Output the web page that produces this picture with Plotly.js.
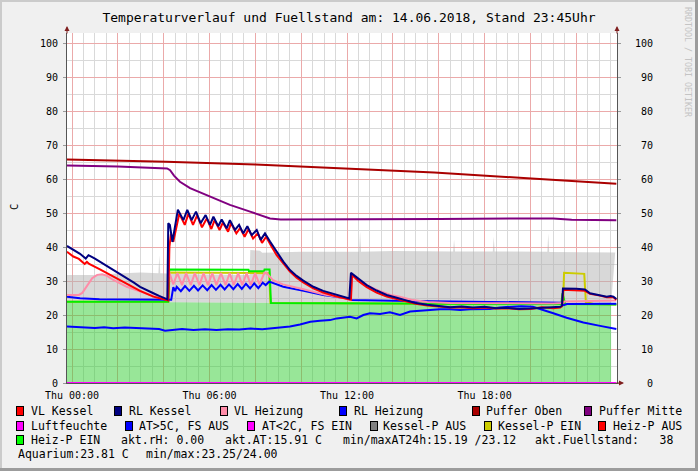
<!DOCTYPE html>
<html><head><meta charset="utf-8">
<script src="https://cdn.plot.ly/plotly-3.0.1.min.js"></script>
<style>html,body{margin:0;padding:0;background:#F0F0F0;}#chart{width:698px;height:471px;}</style>
</head><body><div id="chart"></div>
<script>
// ---------- data: x = hours since Thu 14.06.2018 00:00, y = °C / % ----------
const xTickVals = [0,2,4,6,8,10,12,14,16,18,20,22];
const xTickText = ['Thu 00:00','','','Thu 06:00','','','Thu 12:00','','','Thu 18:00','',''];
const yTickVals = [0,10,20,30,40,50,60,70,80,90,100];
const yTickText = ['0','10','20','30','40','50','60','70','80','90','100'];

const pufferObenT = [-0.22,4.1,8.0,12,15.8,19.7,23.75];
const pufferObenV = [65.7,65.1,64.3,63.1,61.9,60.3,58.6];

const pufferMitteT = [-0.22,2,4.15,4.28,4.45,4.71,5.15,6.02,6.89,7.77,8.64,9.1,12,16,19.7,21,21.8,23.75];
const pufferMitteV = [64.0,63.7,63.1,62.6,61.0,59.2,57.3,54.8,52.4,50.4,48.4,48.1,48.1,48.2,48.4,48.4,48.0,47.9];

const rlKesselT = [-0.22,0.06,0.35,0.6,0.72,1.0,1.22,1.5,1.8,2.1,2.39,2.7,2.97,3.25,3.55,3.8,4.06,4.16,
  4.2,4.27,4.38,4.5,4.62,4.86,5.03,5.22,5.41,5.61,5.83,6.02,6.17,6.38,6.53,6.75,6.89,7.11,7.29,7.47,7.65,7.84,8.06,8.23,8.42,
  8.64,8.9,9.22,9.51,9.8,10.09,10.53,10.96,11.55,11.98,12.1,12.17,12.25,12.49,12.86,13.29,13.73,14.17,14.57,
  15.0,15.5,16.0,16.5,17.0,17.5,18.0,18.5,19.0,19.5,20.0,20.5,21.0,21.3,21.38,21.42,22.0,22.38,22.6,23.04,23.33,23.5,23.62,23.75];
const rlKesselV = [40.3,39.1,38.0,36.6,37.6,36.6,35.7,34.5,33.4,32.1,30.8,29.5,28.3,27.3,26.4,25.6,24.9,24.6,
  47.0,46.5,41.5,47.0,51.0,47.9,50.9,47.9,50.4,47.0,49.4,46.5,48.9,46.1,48.1,45.5,47.9,45.0,46.5,44.0,46.1,43.5,45.0,42.1,44.0,
  41.6,38.8,35.7,33.2,31.5,30.1,28.3,27.1,25.9,25.1,24.9,32.4,32.0,30.8,28.8,27.2,25.9,25.1,24.4,
  23.5,23.0,22.7,22.3,22.5,22.2,22.4,22.0,22.1,21.8,21.9,22.1,22.2,22.4,22.8,27.8,27.7,27.5,26.4,25.9,25.4,25.6,25.4,24.7];

const vlKesselT = [-0.22,0.06,0.3,0.49,0.55,0.65,0.75,1.22,1.8,2.39,2.97,3.55,4.06,4.2,
  4.25,4.32,4.42,4.55,4.68,4.92,5.08,5.28,5.46,5.67,5.88,6.08,6.22,6.44,6.58,6.81,6.94,7.17,7.34,7.53,7.7,7.9,8.11,8.29,8.47,
  8.7,8.93,9.22,9.51,9.8,10.09,10.53,10.96,11.55,12.0,12.17,12.22,12.49,12.86,13.29,13.73,14.17,14.57,
  15.0,15.5,16.0,16.5,17.0,17.5,18.0,18.5,19.0,19.5,20.0,20.5,21.0,21.3,21.38,21.43,22.38,22.6,23.04,23.33,23.62,23.75];
const vlKesselV = [38.6,37.2,36.5,35.5,35.0,35.6,35.0,33.4,31.3,29.0,27.1,25.4,24.4,24.3,
  40.0,44.0,41.5,46.0,49.8,46.5,49.8,46.5,49.3,45.8,48.4,45.3,47.9,45.0,47.2,44.5,47.0,44.0,45.6,43.0,45.2,42.5,44.0,41.2,43.0,
  40.2,37.6,35.2,32.8,31.0,29.6,27.8,26.6,25.4,24.7,24.5,31.8,30.0,28.2,26.6,25.4,24.6,24.0,
  23.3,22.8,22.5,22.2,22.3,22.0,22.2,21.9,22.0,21.7,21.8,22.3,22.0,22.2,22.6,27.4,27.1,26.2,25.7,25.2,25.2,24.5];

const vlHeizungT = [-0.22,0.3,0.45,0.66,0.88,1.1,1.32,1.53,1.8,2.39,2.97,3.55,4.06,4.16,
  4.22,4.42,4.6,4.8,4.98,5.18,5.36,5.56,5.74,5.93,6.12,6.3,6.5,6.7,6.88,7.06,7.25,7.43,7.62,7.8,7.99,8.18,8.4,8.5,
  8.75,9.2,10.1,11.0,11.85,12.15,12.22,12.7,13.3,13.9,14.3,14.8,15.5,16.5,21.0,21.4,21.5,23.75];
const vlHeizungV = [25.9,25.9,26.5,28.8,30.8,31.8,32.0,31.5,30.3,28.3,26.9,25.6,24.7,24.5,
  33.0,29.0,32.3,28.8,32.3,28.8,32.3,28.8,32.3,28.8,32.3,28.8,32.3,28.8,32.3,28.8,32.3,28.8,32.3,28.8,32.3,29.0,32.5,32.3,
  30.3,29.0,27.6,26.0,25.0,24.4,31.8,29.3,27.4,25.9,25.4,24.5,23.8,23.5,23.4,23.5,24.0,24.3];

const rlHeizungT = [-0.22,0.35,1.2,4.06,4.33,4.42,4.5,4.57,4.75,4.93,5.12,5.32,5.5,5.7,5.9,6.09,6.28,6.48,6.66,6.85,
  7.04,7.23,7.41,7.59,7.77,7.95,8.13,8.32,8.45,8.6,9.22,10.1,10.96,11.98,12.2,14,16,18,20,21.3,21.45,21.6,23.75];
const rlHeizungV = [25.4,24.9,24.6,24.4,24.5,28.2,27.0,28.3,27.0,28.5,27.1,28.6,27.2,28.7,27.3,28.8,27.4,28.9,27.5,29.0,
  27.6,29.1,27.7,29.2,27.8,29.3,27.9,29.5,28.8,29.8,28.3,27.1,25.9,24.9,24.4,24.2,24.0,23.9,23.8,23.6,22.9,23.2,23.3];

const heizPT = [-0.22,4.2,4.24,7.7,7.72,8.38,8.4,8.62,8.68,12,16,21.35,21.4,21.47,21.52,23.75];
const heizPV = [23.9,23.9,33.4,33.3,32.9,32.9,33.4,33.4,23.5,23.4,23.3,23.2,26.4,24.0,23.2,23.1];

const kesselPT = [-0.22,4.2,4.26,8.6,8.66,12,21.42,21.47,22.35,22.42,22.8,23.75];
const kesselPV = [23.9,23.9,32.5,32.3,23.5,23.4,23.2,32.4,32.1,23.8,23.2,23.1];

const atT = [-0.22,0.3,0.6,1.0,1.4,1.8,2.3,2.8,3.3,3.8,4.06,4.3,4.8,5.3,5.8,6.3,6.8,7.3,7.8,8.3,8.93,9.51,9.95,10.4,10.82,11.26,
  11.55,11.98,12.13,12.42,12.71,13.0,13.44,13.87,14.17,14.31,14.75,15.18,15.62,16.06,16.49,16.93,17.37,17.8,18.24,18.67,19.11,
  19.6,20.11,20.56,21.0,21.58,22.31,23.04,23.4,23.75];
const atV = [16.6,16.4,16.5,16.2,16.4,16.1,16.3,16.1,16.0,15.9,15.4,15.6,15.9,15.6,15.8,15.6,15.8,15.7,16.0,15.8,16.2,16.6,17.2,18.0,18.3,18.5,
  19.0,19.3,19.5,19.0,20.0,20.5,20.3,20.8,20.3,20.0,21.0,21.3,21.5,21.7,21.7,21.5,21.7,21.7,21.8,22.2,22.3,
  22.6,22.4,21.5,20.5,19.2,17.8,16.8,16.3,15.9];

const aquariumT = [-0.22,2,4.2,6,8.6,10,14,18,21,23.52];
const aquariumV = [24.0,23.95,23.9,23.8,23.6,23.5,23.4,23.3,23.25,23.1];

const fuellT = [-0.22,1.0,2.0,3.0,3.77,3.81,3.85,5.0,7.75,7.78,8.2,8.3,10,12.53,12.57,12.61,14,16.63,16.67,16.71,
  18.36,18.4,18.44,20.74,20.78,20.82,23.7];
const fuellV = [31.8,31.8,32.2,32.5,32.3,37.6,32.3,32.0,31.8,39.1,38.9,38.3,38.6,38.6,44.5,38.6,38.8,38.7,42.1,38.7,
  38.7,43.0,38.7,38.6,44.0,38.5,38.4];

const luftT = [-0.22,23.75];
const luftV = [0,0];

const legendRows = [
  ['VL Kessel','RL Kessel','VL Heizung','RL Heizung','Puffer Oben','Puffer Mitte'],
  ['Luftfeuchte','AT>5C, FS AUS','AT<2C, FS EIN','Kessel-P AUS','Kessel-P EIN','Heiz-P AUS'],
  ['Heiz-P EIN']
];
const legendColors = [
  ['#FF0000','#000080','#FF8CA8','#0000FF','#AA0000','#800080'],
  ['#FF00FF','#0000FF','#FF00FF','#808080','#CCCC00','#FF0000'],
  ['#00FF00']
];
const infoRow3 = ['akt.rH: 0.00','akt.AT:15.91 C','min/maxAT24h:15.19 /23.12','akt.Fuellstand:   38'];
const infoRow4 = ['Aquarium:23.81 C','min/max:23.25/24.00'];
const titleText = 'Temperaturverlauf und Fuellstand am: 14.06.2018, Stand 23:45Uhr';

// ---------- layout helpers (pixel -> paper) ----------
const PL = 67, PR = 617, PT = 33, PB = 383;
const px = x => (x - PL) / (PR - PL);
const py = y => (PB - y) / (PB - PT);
const MONO = 'DejaVu Sans Mono, monospace';
const nb = s => s.replace(/ /g, '\u00A0').replace(/</g,'&lt;').replace(/>/g,'&gt;');

function line(t, v, color, name, yaxis) {
  return {x: t, y: v, type: 'scatter', mode: 'lines', name: name, yaxis: yaxis || 'y',
          line: {color: color, width: 2}, hoverinfo: 'skip', showlegend: false};
}

const traces = [
  {x: aquariumT, y: aquariumV, type: 'scatter', mode: 'lines', fill: 'tozeroy',
   fillcolor: 'rgba(50,205,50,0.5)', line: {width: 0, color: 'rgba(0,0,0,0)'}, showlegend: false, hoverinfo: 'skip', name: 'Aquarium'},
  {x: fuellT, y: fuellV, type: 'scatter', mode: 'lines', fill: 'tonexty',
   fillcolor: 'rgba(177,177,177,0.5)', line: {width: 0, color: 'rgba(0,0,0,0)'}, showlegend: false, hoverinfo: 'skip', name: 'Fuellstand'},
  line(luftT, luftV, '#FF00FF', 'Luftfeuchte', 'y2'),
  line(pufferObenT, pufferObenV, '#AA0000', 'Puffer Oben'),
  line(pufferMitteT, pufferMitteV, '#800080', 'Puffer Mitte'),
  line(kesselPT, kesselPV, '#CCCC00', 'Kessel-P EIN'),
  line(heizPT, heizPV, '#00EE00', 'Heiz-P EIN'),
  line(atT, atV, '#0000FF', 'AT'),
  line(rlHeizungT, rlHeizungV, '#0000FF', 'RL Heizung'),
  line(vlHeizungT, vlHeizungV, '#FF8CA8', 'VL Heizung'),
  line(vlKesselT, vlKesselV, '#FF0000', 'VL Kessel'),
  line(rlKesselT, rlKesselV, '#000080', 'RL Kessel')
];

const annotations = [];
const ARROW = '#7F1F1F';
annotations.push({xref:'paper', yref:'paper', x:0, y:py(26), ax:0, ay:9, text:'', showarrow:true, arrowhead:2, arrowsize:1, arrowwidth:1, arrowcolor:ARROW});
annotations.push({xref:'paper', yref:'paper', x:1, y:py(26), ax:0, ay:9, text:'', showarrow:true, arrowhead:2, arrowsize:1, arrowwidth:1, arrowcolor:ARROW});
annotations.push({xref:'paper', yref:'paper', x:px(624), y:0, ax:-9, ay:0, text:'', showarrow:true, arrowhead:2, arrowsize:1, arrowwidth:1, arrowcolor:ARROW});
annotations.push({xref:'paper', yref:'paper', x:px(14), y:py(207), text:'C', textangle:-90, showarrow:false,
  font:{family:MONO, size:10.5, color:'#000'}, xanchor:'center', yanchor:'middle'});
annotations.push({xref:'paper', yref:'paper', x:px(688), y:py(62), text:'RRDTOOL / TOBI OETIKER', textangle:90, showarrow:false,
  font:{family:MONO, size:8.3, color:'#C4C4C4'}, xanchor:'center', yanchor:'middle'});

const rowY = [411, 425.5, 439.5, 453.5];
const sqX = [[20,118,224,343,476,588],[20,129,250.5,374,488,602],[20]];
const txX = [[30.3,128.2,233.3,352.6,485.3,597.5],[30.3,138,260.5,382,497.3,612.2],[30.3]];
const LFONT = {family: MONO, size: 11.5, color: '#000'};
legendRows.forEach((row, r) => {
  row.forEach((name, i) => {
    annotations.push({xref:'paper', yref:'paper', x:px(sqX[r][i]), y:py(rowY[r]), xanchor:'center', yanchor:'middle',
      text:'\u00A0', showarrow:false, width:6, height:8, bgcolor:legendColors[r][i], bordercolor:'#000', borderwidth:1, borderpad:0,
      font:{size:6}});
    annotations.push({xref:'paper', yref:'paper', x:px(txX[r][i]-1), y:py(rowY[r]), xanchor:'left', yanchor:'middle',
      text:nb(name), showarrow:false, font:LFONT});
  });
});
const info3X = [120.2,224,342,534.3];
infoRow3.forEach((s, i) => annotations.push({xref:'paper', yref:'paper', x:px(info3X[i]-1), y:py(rowY[2]), xanchor:'left', yanchor:'middle',
  text:nb(s), showarrow:false, font:LFONT}));
const info4X = [16.5,144.7];
infoRow4.forEach((s, i) => annotations.push({xref:'paper', yref:'paper', x:px(info4X[i]-1), y:py(rowY[3]), xanchor:'left', yanchor:'middle',
  text:nb(s), showarrow:false, font:LFONT}));

const shapes = [
  {type:'rect', xref:'paper', yref:'paper', x0:px(0), x1:px(698), y0:py(0), y1:py(2), fillcolor:'#CBCBCB', line:{width:0}, layer:'above'},
  {type:'rect', xref:'paper', yref:'paper', x0:px(0), x1:px(2), y0:py(0), y1:py(471), fillcolor:'#CBCBCB', line:{width:0}, layer:'above'},
  {type:'rect', xref:'paper', yref:'paper', x0:px(695), x1:px(698), y0:py(0), y1:py(471), fillcolor:'#9C9C9C', line:{width:0}, layer:'above'},
  {type:'rect', xref:'paper', yref:'paper', x0:px(0), x1:px(698), y0:py(468), y1:py(471), fillcolor:'#9C9C9C', line:{width:0}, layer:'above'}
];

const MGRID = '#EBAAAA', GRID = '#D9D9D9', AXIS = '#555555';
const padR = yTickText.map(s => '\u00A0'.repeat(3 - s.length) + s);
const xAlias = {};
xTickVals.forEach((v, i) => { xAlias[String(v)] = xTickText[i] === '' ? '\u00A0' : xTickText[i]; });

const layout = {
  width: 698, height: 471, autosize: false,
  paper_bgcolor: '#F0F0F0', plot_bgcolor: '#FFFFFF',
  margin: {l: PL, r: 698 - PR, t: PT, b: 471 - PB, pad: 0},
  showlegend: false,
  title: {text: titleText, font: {family: MONO, size: 13, color: '#000'}, x: 0.5, xref: 'container', xanchor: 'center',
          y: 1 - 17/471, yref: 'container', yanchor: 'middle'},
  xaxis: {range: [(PL - 72) / 22.92, (PR - 72) / 22.92], tickmode: 'linear', tick0: 0, dtick: 2, labelalias: xAlias,
          showgrid: true, gridcolor: MGRID, gridwidth: 1, zeroline: false, showline: true, linecolor: AXIS, linewidth: 1,
          ticks: '', ticklabelstandoff: 3, tickfont: {family: MONO, size: 10, color: '#000'},
          minor: {tickmode: 'linear', tick0: 0, dtick: 0.5, showgrid: true, gridcolor: GRID, gridwidth: 1, ticks: ''},
          fixedrange: true},
  yaxis: {range: [0, (PB - PT) / 3.4], tickmode: 'linear', tick0: 0, dtick: 10,
          showgrid: true, gridcolor: MGRID, gridwidth: 1, zeroline: false, showline: true, linecolor: AXIS, linewidth: 1,
          ticks: 'outside', ticklen: 3, tickcolor: '#999', ticklabelstandoff: 3, tickfont: {family: MONO, size: 10, color: '#000'},
          minor: {tickmode: 'linear', tick0: 0, dtick: 5, showgrid: true, gridcolor: GRID, gridwidth: 1, ticks: ''},
          fixedrange: true},
  yaxis2: {overlaying: 'y', side: 'right', anchor: 'x', range: [0, (PB - PT) / 3.4], tickmode: 'array', tickvals: yTickVals,
           ticktext: padR, showgrid: false, zeroline: false, showline: true, linecolor: AXIS, linewidth: 1,
           ticks: 'outside', ticklen: 3, tickcolor: '#999', ticklabelstandoff: 12,
           tickfont: {family: MONO, size: 10, color: '#000'}, fixedrange: true},
  annotations: annotations,
  shapes: shapes
};

Plotly.newPlot('chart', traces, layout, {displayModeBar: false, staticPlot: true});
</script></body></html>
